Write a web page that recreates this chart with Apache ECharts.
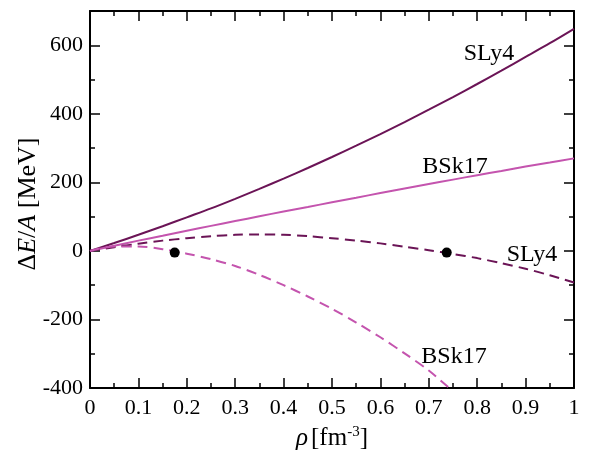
<!DOCTYPE html>
<html>
<head>
<meta charset="utf-8">
<script src="https://cdn.jsdelivr.net/npm/echarts@6/dist/echarts.min.js"></script>
<style>
html,body{margin:0;padding:0;background:#fff;}
#chart{width:595px;height:456px;}
</style>
</head>
<body>
<div id="chart"></div>
<script>
// ---- data ----
const rho = [0,0.05,0.1,0.15,0.2,0.25,0.3,0.35,0.4,0.45,0.5,0.55,0.6,0.65,0.7,0.75,0.8,0.85,0.9,0.95,1.0];
const sly4Solid  = [0,23,47,72,98,124,152,181,211,242,274,307,341,376,412,449,487,526,566,606,648];
const bsk17Solid = [0,15,30,44,59,73,87,101,115,128,142,155,169,182,195,208,221,233,246,258,270];
const sly4Dashed = [0,11,21,30,37,43,47,48,47,43,37,30,22,12,2,-9,-21,-36,-52,-71,-92];
const rhoB = [0,0.05,0.1,0.15,0.2,0.25,0.3,0.35,0.4,0.45,0.5,0.55,0.6,0.65,0.7,0.75];
const bsk17Dashed = [0,13,13,5,-8,-24,-44,-70,-100,-133,-169,-209,-252,-299,-349,-410];
const dots = [[0.175,-5],[0.737,-5]];
const xTicks = [0,0.1,0.2,0.3,0.4,0.5,0.6,0.7,0.8,0.9,1];
const yTicks = [-400,-200,0,200,400,600];

const C_SLY = '#6b1456';
const C_BSK = '#c454ae';
const FONT = 'Liberation Serif';

function pairs(xs, ys){ return ys.map((y,i)=>[xs[i], y]); }

const chart = echarts.init(document.getElementById('chart'), null, {renderer:'canvas'});

const axLine = {show:true, onZero:false, lineStyle:{color:'#000', width:2}};
function xAx(pos, labels){
  return {
    type:'value', position:pos, min:0, max:1, interval:0.1,
    axisLine:axLine,
    axisTick:{show:true, inside:true, length:10, lineStyle:{color:'#000', width:1.5}},
    minorTick:{show:true, splitNumber:2, length:5, lineStyle:{color:'#000', width:1.5}},
    splitLine:{show:false}, minorSplitLine:{show:false},
    axisLabel: labels ? {show:true, margin:9, color:'#000', fontFamily:FONT, fontSize:22,
      formatter:(v)=>{ const r=Math.round(v*10)/10; return xTicks.indexOf(r)>=0 ? String(r) : ''; }} : {show:false},
    name: labels ? '{i|ρ} {n|[fm}{s|-3}{n|]}' : '',
    nameLocation:'middle', nameGap:37,
    nameTextStyle:{ rich:{
      i:{fontFamily:FONT, fontSize:25, fontStyle:'italic', color:'#000'},
      n:{fontFamily:FONT, fontSize:25, color:'#000'},
      s:{fontFamily:FONT, fontSize:15, color:'#000', verticalAlign:'top', padding:[0,0,12,0]}
    }}
  };
}
function yAx(pos, major, labels){
  return {
    type:'value', position:pos, min:-400, max:700, interval: major?200:100,
    axisLine: major ? axLine : {show:false, onZero:false},
    axisTick:{show:true, inside:true, length: major?10:5, lineStyle:{color:'#000', width:1.5}},
    splitLine:{show:false},
    axisLabel: labels ? {show:true, margin:7, color:'#000', fontFamily:FONT, fontSize:22,
      formatter:(v)=> yTicks.indexOf(v)>=0 ? String(v) : ''} : {show:false}
  };
}

const option = {
  animation:false,
  backgroundColor:'#fff',
  textStyle:{fontFamily:FONT},
  grid:{left:90, right:21, top:11, bottom:59, containLabel:false},
  xAxis:[xAx('bottom', true), xAx('top', false)],
  yAxis:[yAx('left', true, true), yAx('left', false, false), yAx('right', true, false), yAx('right', false, false)],
  series:[
    {type:'line', data:pairs(rho, sly4Solid), smooth:0.3, showSymbol:false, symbol:'none',
      lineStyle:{color:C_SLY, width:2}, z:3},
    {type:'line', data:pairs(rho, bsk17Solid), smooth:0.3, showSymbol:false, symbol:'none',
      lineStyle:{color:C_BSK, width:2}, z:3},
    {type:'line', data:pairs(rho, sly4Dashed), smooth:0.3, showSymbol:false, symbol:'none',
      lineStyle:{color:C_SLY, width:2, type:[10,6]}, z:3},
    {type:'line', data:pairs(rhoB, bsk17Dashed), smooth:0.3, showSymbol:false, symbol:'none',
      lineStyle:{color:C_BSK, width:2, type:[10,6]}, z:3, clip:true},
    {type:'scatter', data:dots, symbol:'circle', symbolSize:10, itemStyle:{color:'#000', opacity:1}, z:5}
  ],
  graphic:[
    {type:'text', x:28, y:204, rotation:Math.PI/2, silent:true,
      style:{text:'{n|Δ}{i|E}{n|/}{i|A}{n| [MeV]}', align:'center', verticalAlign:'middle',
        rich:{ i:{fontFamily:FONT, fontSize:26, fontStyle:'italic', fill:'#000'},
               n:{fontFamily:FONT, fontSize:26, fill:'#000'} } }},
    {type:'text', x:489, y:54, silent:true,
      style:{text:'SLy4', fontFamily:FONT, fontSize:24, fill:'#000', align:'center', verticalAlign:'middle'}},
    {type:'text', x:455, y:167, silent:true,
      style:{text:'BSk17', fontFamily:FONT, fontSize:24, fill:'#000', align:'center', verticalAlign:'middle'}},
    {type:'text', x:532, y:255, silent:true,
      style:{text:'SLy4', fontFamily:FONT, fontSize:24, fill:'#000', align:'center', verticalAlign:'middle'}},
    {type:'text', x:454, y:357, silent:true,
      style:{text:'BSk17', fontFamily:FONT, fontSize:24, fill:'#000', align:'center', verticalAlign:'middle'}}
  ]
};
chart.setOption(option);
</script>
</body>
</html>
